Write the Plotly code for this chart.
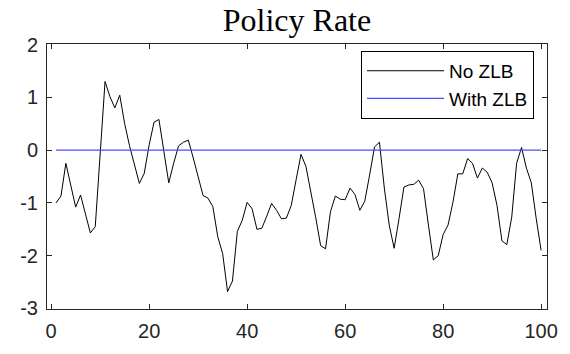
import plotly.graph_objects as go

# Data
periods = list(range(1, 101))
no_zlb = [
    -1.00, -0.87, -0.25, -0.68, -1.08, -0.85, -1.20, -1.57, -1.45, -0.05,
    1.30, 1.01, 0.80, 1.04, 0.50, 0.08, -0.30, -0.63, -0.44, 0.10,
    0.53, 0.58, -0.02, -0.62, -0.25, 0.08, 0.15, 0.19, -0.15, -0.50,
    -0.86, -0.91, -1.07, -1.64, -1.96, -2.68, -2.48, -1.54, -1.33, -0.99,
    -1.11, -1.50, -1.48, -1.25, -1.01, -1.14, -1.30, -1.29, -1.05, -0.56,
    -0.08, -0.31, -0.78, -1.28, -1.81, -1.87, -1.17, -0.87, -0.93, -0.94,
    -0.72, -0.84, -1.14, -0.97, -0.47, 0.06, 0.15, -0.72, -1.42, -1.86,
    -1.30, -0.70, -0.66, -0.65, -0.57, -0.73, -1.42, -2.08, -2.00, -1.60,
    -1.42, -0.99, -0.45, -0.45, -0.16, -0.25, -0.53, -0.34, -0.42, -0.62,
    -1.05, -1.72, -1.79, -1.27, -0.25, 0.05, -0.34, -0.62, -1.30, -1.90,
]
with_zlb = [0.0] * 100

x_ticks = [0, 20, 40, 60, 80, 100]
x_tick_labels = ["0", "20", "40", "60", "80", "100"]
y_ticks = [-3, -2, -1, 0, 1, 2]
y_tick_labels = ["-3", "-2", "-1", "0", "1", "2"]

AX = "#262626"
TICKFONT = dict(family="Liberation Sans, Arial, sans-serif", size=20, color=AX)

fig = go.Figure()
fig.add_trace(go.Scatter(x=periods, y=no_zlb, mode="lines", name="No ZLB",
                         line=dict(color="black", width=1)))
fig.add_trace(go.Scatter(x=periods, y=with_zlb, mode="lines", name="With ZLB",
                         line=dict(color="#4d4dff", width=1.2)))

fig.update_layout(
    width=570, height=354,
    margin=dict(l=47, r=17, t=44, b=38),
    paper_bgcolor="white", plot_bgcolor="white",
    title=dict(text="Policy Rate", x=0.5, xref="paper", xanchor="center",
               y=0.945, yanchor="middle",
               font=dict(family="Liberation Serif, Times New Roman, serif", size=32, color="black")),
    legend=dict(x=0.628, y=0.974, xanchor="left", yanchor="top",
                bgcolor="white", bordercolor="black", borderwidth=1,
                font=dict(family="Liberation Sans, Arial, sans-serif", size=19, color="black"),
                itemwidth=77, tracegroupgap=0),
    showlegend=True,
)
fig.update_xaxes(range=[-0.85, 101.2], tickvals=x_ticks, ticktext=x_tick_labels,
                 ticks="inside", ticklen=5,
                 tickcolor=AX, showline=True, linecolor=AX, linewidth=1, mirror="ticks",
                 showgrid=False, zeroline=False, tickfont=TICKFONT, ticklabelstandoff=4)
fig.update_yaxes(range=[-3.01, 2.01], tickvals=y_ticks, ticktext=y_tick_labels,
                 ticks="inside", ticklen=5,
                 tickcolor=AX, showline=True, linecolor=AX, linewidth=1, mirror="ticks",
                 showgrid=False, zeroline=False, tickfont=TICKFONT, ticklabelstandoff=4)

fig.write_html("out.html")
